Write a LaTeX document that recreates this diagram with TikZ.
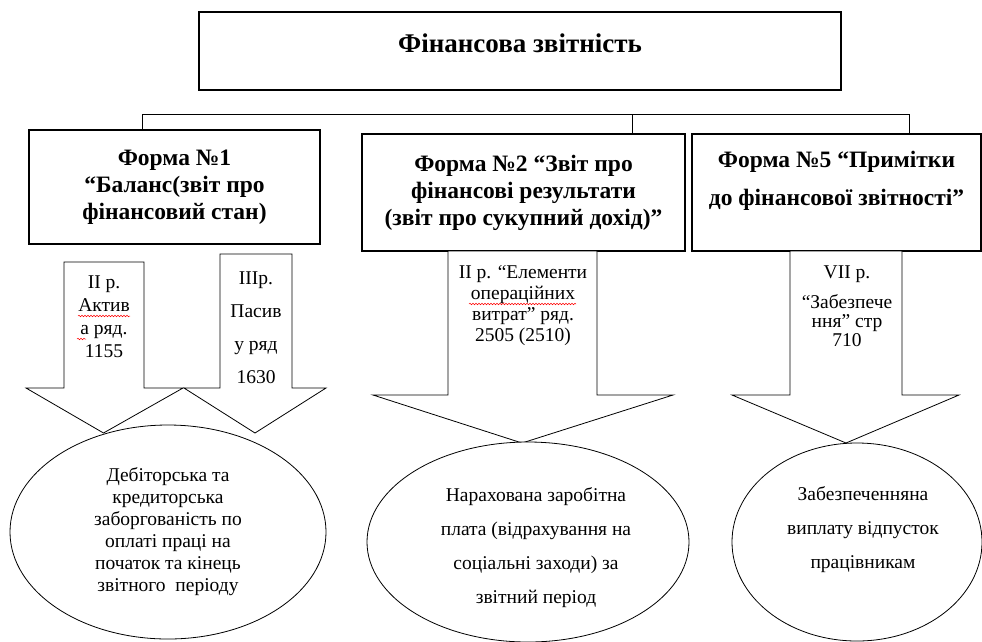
\documentclass[tikz,border=0pt]{standalone}
\usepackage{fontspec}
\setmainfont{Liberation Serif}
\usetikzlibrary{shapes.geometric,decorations.pathmorphing}

\begin{document}
\begin{tikzpicture}[
  x=1pt, y=-1pt,
  frame/.style={draw, line width=1.1pt, inner sep=0pt},
  head/.style={align=center, font=\fontsize{23.5}{27}\selectfont\bfseries},
  note/.style={align=center, font=\fontsize{19.5}{22}\selectfont},
  wide/.style={align=center, font=\fontsize{19.5}{34}\selectfont},
  oval/.style={draw, ellipse, fill=white, line width=0.8pt, inner sep=0pt},
  barrow/.style={draw, fill=white, line width=0.8pt, line join=miter},
  link/.style={line width=0.9pt},
  typo/.style={red, line width=0.5pt, decorate, decoration={snake, amplitude=0.8pt, segment length=3pt}}
]
\useasboundingbox (0,0) rectangle (982,641);

% Main boxes
\node[frame, minimum width=642pt, minimum height=78pt] (top) at (520,51) {};
\node[head, font=\fontsize{27}{30}\selectfont\bfseries] (toptext) at (520,43) {Фінансова звітність};

\node[frame, head, minimum width=291pt, minimum height=114pt] (form1) at (174.5,187)
  {Форма №1\\“Баланс(звіт про\\фінансовий стан)};
\node[frame, head, minimum width=323pt, minimum height=117pt] (form2) at (523.5,192.5)
  {Форма №2 “Звіт про\\фінансові результати\\(звіт про сукупний дохід)”};
\node[frame, minimum width=289pt, minimum height=117pt] (form5) at (836.5,192.5) {};
\node[head, font=\fontsize{23.5}{38}\selectfont\bfseries] (form5text) at (836.5,181)
  {Форма №5 “Примітки\\до фінансової звітності”};

% Bus line
\coordinate (busL) at (142,114);
\coordinate (busM) at (632,114);
\coordinate (busR) at (909,114);
\draw[link] (busL |- form1.north) -- (busL) -- (busR) -- (busR |- form5.north);
\draw[link] (busM) -- (busM |- form2.north);

% Block arrows
\draw[barrow] (64,262) -- (144,262) -- (144,388) -- (183,388) -- (103.5,433) -- (26,388) -- (64,388) -- cycle;
\draw[barrow] (220,254) -- (292,254) -- (292,388) -- (326,388) -- (255,433) -- (184,388) -- (220,388) -- cycle;
\draw[barrow] (448,251) -- (597,251) -- (597,395) -- (673,395) -- (522,443) -- (373,395) -- (448,395) -- cycle;
\draw[barrow] (790,251) -- (902,251) -- (902,395) -- (959,395) -- (846,443) -- (732,395) -- (790,395) -- cycle;

\node[note, font=\fontsize{19.5}{23}\selectfont] (row1) at (104,317) {II р.\\Актив\\а ряд.\\1155};
\node[note, font=\fontsize{19.5}{33}\selectfont] (row2) at (256,328) {IIIр.\\Пасив\\у ряд\\1630};
\node[note, font=\fontsize{19.5}{21}\selectfont] (row3) at (523,306) {II р. “Елементи\\операційних\\витрат” ряд.\\2505 (2510)};
\node[note, font=\fontsize{19.5}{19}\selectfont] (row4) at (847,306) {VII р.\\[11pt]“Забезпече\\ння” стр\\710};

% spell-check marks
\draw[typo] (78,316) -- (130,316);
\draw[typo] (77,339) -- (86,339);
\draw[typo] (469,304) -- (576,304);

% Results
\node[oval, note, minimum width=316pt, minimum height=214pt] (debt) at (168,532)
  {Дебіторська та\\кредиторська\\заборгованість по\\оплаті праці на\\початок та кінець\\звітного\ \ періоду};
\node[oval, minimum width=322pt, minimum height=200pt] (wage) at (528,542) {};
\node[wide] (wagetext) at (536,548)
  {Нарахована заробітна\\плата (відрахування на\\соціальні заходи) за\\звітний період};
\node[oval, minimum width=250pt, minimum height=198pt] (leave) at (857,542) {};
\node[wide] (leavetext) at (863,530)
  {Забезпеченняна\\виплату відпусток\\працівникам};

\end{tikzpicture}
\end{document}
